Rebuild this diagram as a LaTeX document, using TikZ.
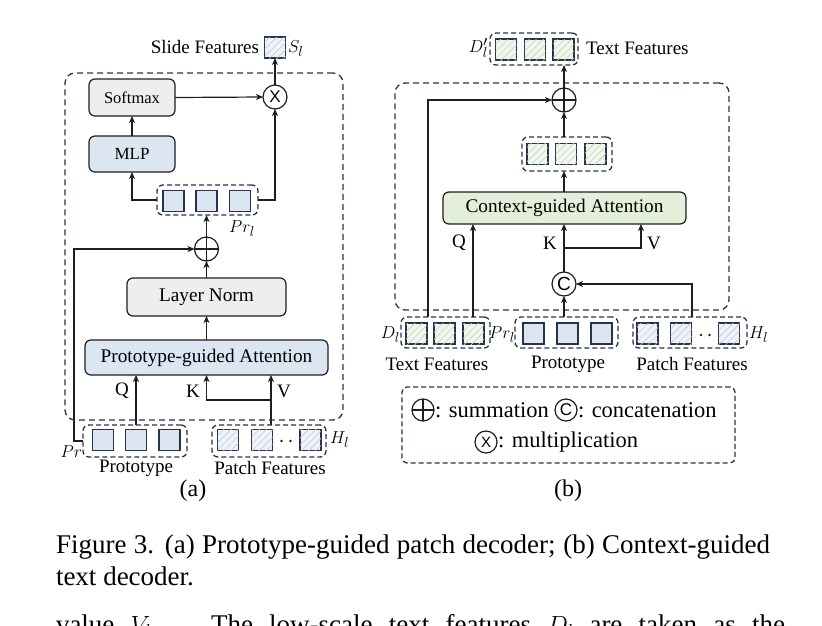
\documentclass[tikz,border=0pt]{standalone}
\usepackage{fontspec}
\setmainfont{Liberation Serif}
\newfontfamily\sansf{Liberation Sans}
\usetikzlibrary{arrows.meta,patterns.meta,calc}
\definecolor{bluefill}{RGB}{220,230,243}
\definecolor{grayfill}{RGB}{238,238,238}
\definecolor{greenfill}{RGB}{227,239,218}
\definecolor{edge}{RGB}{30,30,30}
\definecolor{frameedge}{RGB}{45,50,65}
\definecolor{sqedge}{RGB}{40,50,75}
\definecolor{hblue}{RGB}{190,203,222}
\definecolor{hbluebg}{RGB}{238,242,249}
\definecolor{hgreen}{RGB}{196,210,186}
\definecolor{hgreenbg}{RGB}{242,247,238}
\newcommand\myfs[1]{\fontsize{#1}{#1}\selectfont}
\begin{document}
\begin{tikzpicture}[x=1pt,y=-1pt,
  every node/.style={inner sep=0pt, outer sep=0pt},
  txt/.style={font=\myfs{19}},
  box/.style={draw=edge, line width=1.2pt, rounded corners=6pt, font=\myfs{19.3}},
  frame/.style={draw=frameedge, line width=1.3pt, dash pattern=on 6pt off 4pt, rounded corners=10pt},
  grp/.style={draw=frameedge, line width=1.3pt, dash pattern=on 5pt off 3pt, rounded corners=6pt},
  sq/.style={draw=sqedge, line width=1.2pt, minimum size=21pt},
  sqb/.style={sq, fill=bluefill},
  sqbh/.style={sq, fill=hbluebg, postaction={pattern={Lines[angle=45,distance=5pt,line width=0.6pt]}, pattern color=hblue}},
  sqgh/.style={sq, fill=hgreenbg, postaction={pattern={Lines[angle=45,distance=5pt,line width=0.6pt]}, pattern color=hgreen}},
  arr/.style={draw=edge, line width=1.2pt, -{Stealth[length=7pt,width=6pt,inset=2pt]}},
  op/.style={circle, draw=edge, line width=1.2pt, minimum size=24pt, fill=white},
  opplus/.style={op, path picture={\draw[line width=1.1pt, edge] (path picture bounding box.north) -- (path picture bounding box.south) (path picture bounding box.west) -- (path picture bounding box.east);}},
  dotn/.style={circle, fill=edge, minimum size=2.8pt}
]
\useasboundingbox (0,0) rectangle (822,625);

% ---------------- panel (a) ----------------
\node[frame, minimum width=278pt, minimum height=347pt] (outerA) at (204,246.5) {};
\node[box, fill=grayfill, minimum width=86pt, minimum height=37pt, font=\myfs{16.5}] (softmax) at (132,97.5) {Softmax};
\node[box, fill=bluefill, minimum width=86pt, minimum height=36pt, font=\myfs{17}] (mlp) at (132,154) {MLP};
\node[op, font=\sansf\myfs{17}] (mult) at (275,97) {X};
\node[sqbh] (sl) at (275,47.5) {};
\node[txt, anchor=east] (slidetxt) at (259,47) {Slide Features};
\node[txt, anchor=west] (sllab) at (288,49) {$S_l$};
\node[grp, minimum width=101pt, minimum height=30pt] (prl) at (207.5,200) {};
\node[sqb] (prl1) at (173.5,201) {};
\node[sqb] (prl2) at (206.5,201) {};
\node[sqb] (prl3) at (240,201) {};
\node[txt] (prllab) at (242,229) {$Pr_l$};
\node[opplus] (plusA) at (206.5,249) {};
\node[box, fill=grayfill, minimum width=159pt, minimum height=38pt] (lnorm) at (206.5,297) {Layer Norm};
\node[box, fill=bluefill, minimum width=243pt, minimum height=35pt] (pga) at (206.5,357.5) {Prototype-guided Attention};
\node[grp, minimum width=104pt, minimum height=32pt] (protoA) at (135,441) {};
\node[sqb] (pa1) at (103,440) {};
\node[sqb] (pa2) at (136,440) {};
\node[sqb] (pa3) at (169.5,440) {};
\node[grp, minimum width=114pt, minimum height=32pt] (patchA) at (269,441) {};
\node[sqbh] (ha1) at (228,440) {};
\node[sqbh] (ha2) at (262,440) {};
\node[sqbh] (ha3) at (310.5,440) {};
\node[dotn] (da1) at (281.5,441) {};
\node[dotn] (da2) at (290.5,441) {};
\node[txt, anchor=west] (hlA) at (330,440) {$H_l$};
\node[txt] (protolabA) at (136,468) {Prototype};
\node[txt] (patchlabA) at (270,468) {Patch Features};
\node[txt, anchor=east] (prlab) at (82,452) {$Pr$};
\node[txt] (qA) at (122,391) {Q};
\node[txt] (kA) at (193,391) {K};
\node[txt] (vA) at (284,391) {V};
\node[font=\myfs{24}] (capa) at (193,491) {(a)};
\coordinate (jA) at (206.5,400);
\coordinate (xvA) at (271,400);

\draw[arr] (mult.north) -- (sl.south);
\draw[arr] (softmax.east) -- (mult.west);
\draw[arr] (mlp.north) -- (softmax.south);
\draw[arr] (prl.west) -| (mlp.south);
\draw[arr] (prl.east) -| (mult.south);
\draw[arr] (plusA.north) -- (plusA.north |- prl.south);
\draw[arr] (lnorm.north) -- (plusA.south);
\draw[arr] (pga.north) -- (lnorm.south);
\draw[arr] (protoA.west) -- ++(-9,0) |- (plusA.west);
\draw[arr] (pa2.north |- protoA.north) -- (pa2.north |- pga.south);
\draw[arr] (xvA |- patchA.north) -- (xvA |- pga.south);
\draw[arr] (xvA) -- (jA) -- (jA |- pga.south);

% ---------------- panel (b) ----------------
\node[frame, minimum width=334pt, minimum height=227pt] (outerB) at (562,196.5) {};
\node[grp, minimum width=88pt, minimum height=32pt] (dpl) at (534,49) {};
\node[sqgh] (dp1) at (506,49.5) {};
\node[sqgh] (dp2) at (535,49.5) {};
\node[sqgh] (dp3) at (563.5,49.5) {};
\node[txt, anchor=east] (dpllab) at (488,48) {$D'_l$};
\node[txt, anchor=west] (tftop) at (586,48) {Text Features};
\node[opplus] (plusB) at (564,100) {};
\node[grp, minimum width=90pt, minimum height=34pt] (mid) at (567,154) {};
\node[sqgh] (m1) at (537.5,154) {};
\node[sqgh] (m2) at (566,154) {};
\node[sqgh] (m3) at (595.5,154) {};
\node[box, fill=greenfill, minimum width=243pt, minimum height=32pt] (cga) at (564.5,208) {Context-guided Attention};
\node[op, font=\sansf\myfs{19}] (cB) at (564,284) {C};
\node[grp, minimum width=89pt, minimum height=31pt] (textB) at (445.5,332.5) {};
\node[sqgh] (t1) at (416.5,333.5) {};
\node[sqgh] (t2) at (444.5,333.5) {};
\node[sqgh] (t3) at (473.5,333.5) {};
\node[grp, minimum width=103pt, minimum height=31pt] (protoB) at (566.5,332.5) {};
\node[sqb] (pb1) at (533.5,333.5) {};
\node[sqb] (pb2) at (567.5,333.5) {};
\node[sqb] (pb3) at (601.5,333.5) {};
\node[grp, minimum width=114pt, minimum height=31pt] (patchB) at (690,332.5) {};
\node[sqbh] (hb1) at (647.5,333.5) {};
\node[sqbh] (hb2) at (681,333.5) {};
\node[sqbh] (hb3) at (729,333.5) {};
\node[dotn] (db1) at (701,335) {};
\node[dotn] (db2) at (709.5,335) {};
\node[txt, anchor=east] (dllab) at (400,335) {$D_l$};
\node[txt] (prlb) at (502,335) {$Pr_l$};
\node[txt, anchor=west] (hlB) at (749,335) {$H_l$};
\node[txt] (textlabB) at (437,364) {Text Features};
\node[txt] (protolabB) at (568,364) {Prototype};
\node[txt] (patchlabB) at (692,364) {Patch Features};
\node[txt] (qB) at (459,243) {Q};
\node[txt] (kB) at (550,243) {K};
\node[txt] (vB) at (654,243) {V};
\coordinate (xk) at (564,248);
\coordinate (xv) at (641,248);
\coordinate (xp) at (692,0);
\coordinate (xq) at (473,0);
\coordinate (xl) at (428,0);

\draw[arr] (plusB.north) -- (plusB.north |- dpl.south);
\draw[arr] (plusB.south |- mid.north) -- (plusB.south);
\draw[arr] (plusB.south |- cga.north) -- (plusB.south |- mid.south);
\draw[arr] (cB.north) -- (cB.north |- cga.south);
\draw[arr] (xk) -- (xv) -- (xv |- cga.south);
\draw[arr] (cB.south |- protoB.north) -- (cB.south);
\draw[arr] (xp |- patchB.north) |- (cB.east);
\draw[arr] (xq |- textB.north) -- (xq |- cga.south);
\draw[arr] (xl |- textB.north) |- (plusB.west);

% legend
\node[grp, rounded corners=5pt, minimum width=333pt, minimum height=76pt] (legend) at (568.5,425) {};
\node[opplus, minimum size=22pt] (lg1) at (423,410) {};
\node[anchor=west, font=\myfs{22.5}] (lg1t) at (435,410) {: summation};
\node[op, minimum size=22pt, font=\sansf\myfs{17}] (lg2) at (566,410) {C};
\node[anchor=west, font=\myfs{22.5}] (lg2t) at (578,410) {: concatenation};
\node[op, minimum size=22pt, font=\sansf\myfs{15}] (lg3) at (486,442) {X};
\node[anchor=west, font=\myfs{22.5}] (lg3t) at (498,442) {: multiplication};
\node[font=\myfs{24}] (capb) at (568,491) {(b)};

% caption
\node[anchor=base west, font=\myfs{27}] (cap1) at (56,553) {\makebox[714pt][s]{Figure 3. (a) Prototype-guided patch decoder; (b) Context-guided}};
\node[anchor=base west, font=\myfs{27}] (cap2) at (56,585) {text decoder.};
\begin{scope}
\clip (0,0) rectangle (822,625);
\node[anchor=base west, font=\myfs{27}] (body) at (56,633) {\makebox[729pt][s]{value $V_{l}$. \ The low-scale text features $D_l$ are taken as the}};
\end{scope}
\end{tikzpicture}
\end{document}
